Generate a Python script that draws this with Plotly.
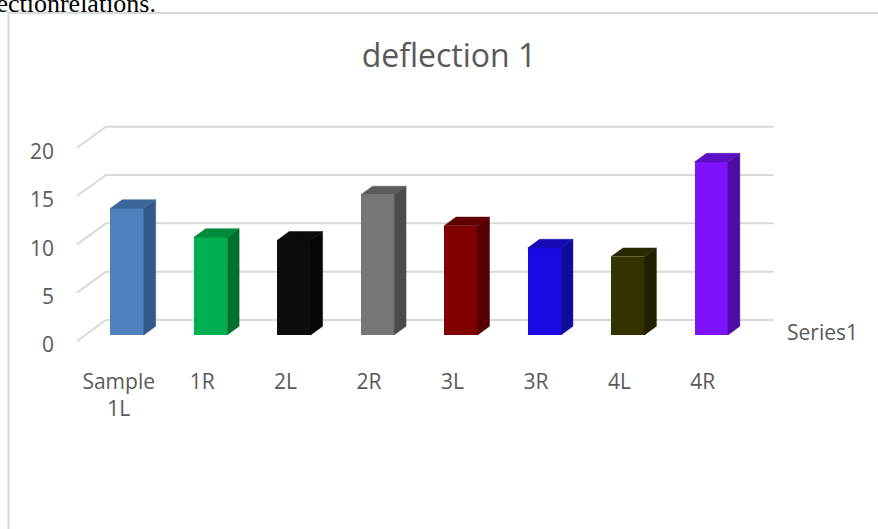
import plotly.graph_objects as go

# ---------------- data ----------------
categories = ["Sample<br>1L", "1R", "2L", "2R", "3L", "3R", "4L", "4R"]
values = [13.1, 10.1, 9.8, 14.5, 11.3, 9.0, 8.1, 17.9]
y_ticks = [0, 5, 10, 15, 20]
series_name = "Series1"
title_text = "deflection 1"
front_colors = ["#4F81BD", "#00B050", "#0D0D0D", "#767676", "#800000", "#1A0BE5", "#333300", "#7C13FB"]
side_colors = ["#34588A", "#00702F", "#070707", "#4B4B4B", "#540000", "#120A9C", "#212100", "#4E0BA6"]
top_colors = ["#3C679B", "#008A3C", "#0A0A0A", "#5A5A5A", "#620000", "#150BB5", "#292900", "#5C0EC2"]

# ---------------- geometry (pixels) ----------------
W, H = 878, 529
L, R, T, B = 55, 60, 90, 165
CAT_PX = 83.45     # px per category
VAL_PX = 9.665     # px per value unit
X0_PX = 118.7      # pixel x of category 0 on front floor edge
Y0_PX = 341.0      # pixel y of value 0 on front floor edge
DEPTH_X = 29 / CAT_PX   # full depth offset in category units
DEPTH_Y = 21 / VAL_PX   # full depth offset in value units
F0, F1 = 0.29, 0.70     # bar front / back depth fractions
BAR_W = 0.40

x_range = [(L - X0_PX) / CAT_PX, (W - R - X0_PX) / CAT_PX]
y_range = [(Y0_PX - (H - B)) / VAL_PX, (Y0_PX - T) / VAL_PX]
pw, ph = W - L - R, H - T - B


def px2paper_x(px):
    return (px - L) / pw


def px2paper_y(py):
    return ((H - B) - py) / ph


n = len(categories)
x_left = -0.5
x_right = n - 0.5

fig = go.Figure()

shapes = []
# gridlines: side wall diagonals + back wall horizontals (drawn below the bars)
for v in y_ticks:
    shapes.append(dict(type="path", xref="x", yref="y", layer="below",
                       path=f"M {x_left},{v} L {x_left + DEPTH_X},{v + DEPTH_Y} L {x_right + DEPTH_X},{v + DEPTH_Y}",
                       line=dict(color="#D9D9D9", width=2)))

# chart frame
shapes.append(dict(type="rect", xref="paper", yref="paper",
                   x0=px2paper_x(8.5), y0=px2paper_y(H + 20),
                   x1=px2paper_x(W + 20), y1=px2paper_y(13),
                   line=dict(color="#D9D9D9", width=2), fillcolor="rgba(0,0,0,0)", layer="below"))

# bars: front faces
xs_front = [i + F0 * DEPTH_X for i in range(n)]
base = F0 * DEPTH_Y
fig.add_trace(go.Bar(x=xs_front, y=values, base=[base] * n, width=BAR_W,
                     marker=dict(color=front_colors, line=dict(width=0)),
                     showlegend=False, name=series_name))

dx = (F1 - F0) * DEPTH_X
dy = (F1 - F0) * DEPTH_Y
for i, v in enumerate(values):
    xl = xs_front[i] - BAR_W / 2
    xr = xs_front[i] + BAR_W / 2
    b0 = base
    t0 = base + v
    # side face
    fig.add_trace(go.Scatter(
        x=[xr, xr, xr + dx, xr + dx, xr], y=[b0, t0, t0 + dy, b0 + dy, b0],
        mode="lines", fill="toself", fillcolor=side_colors[i],
        line=dict(color=side_colors[i], width=0.5), hoverinfo="skip", showlegend=False))
    # top face
    fig.add_trace(go.Scatter(
        x=[xl, xr, xr + dx, xl + dx, xl], y=[t0, t0, t0 + dy, t0 + dy, t0],
        mode="lines", fill="toself", fillcolor=top_colors[i],
        line=dict(color=top_colors[i], width=0.5), hoverinfo="skip", showlegend=False))

# legend entry (no visible key)
fig.add_trace(go.Scatter(x=[None], y=[None], mode="lines", name=series_name,
                         line=dict(color="rgba(0,0,0,0)", width=0), showlegend=True))

fig.update_layout(
    width=W, height=H,
    margin=dict(l=L, r=R, t=T, b=B, pad=0),
    paper_bgcolor="white", plot_bgcolor="white",
    font=dict(family="Open Sans", size=21, color="#595959"),
    title=dict(text=title_text, x=449 / W, xanchor="center", xref="container",
               y=1 - 56 / H, yanchor="middle", yref="container",
               font=dict(family="Open Sans", size=32, color="#595959")),
    xaxis=dict(range=x_range, showgrid=False, zeroline=False, showline=False,
               tickmode="array", tickvals=list(range(n)), ticktext=categories,
               ticks="", ticklabelstandoff=3, fixedrange=True),
    yaxis=dict(range=y_range, showgrid=False, zeroline=False, showline=False,
               tickmode="array", tickvals=y_ticks, ticktext=[str(t) for t in y_ticks],
               ticks="", ticklabelshift=4, fixedrange=True),
    legend=dict(x=px2paper_x(747), y=px2paper_y(332), xanchor="left", yanchor="middle",
                font=dict(size=21, color="#595959"), bgcolor="rgba(0,0,0,0)"),
    bargap=0,
    showlegend=True,
    shapes=shapes,
    annotations=[dict(text="deflectionrelations.", xref="paper", yref="paper",
                      x=px2paper_x(158), y=px2paper_y(20), xanchor="right", yanchor="bottom",
                      showarrow=False,
                      font=dict(family="Liberation Serif", size=26, color="#000000"))],
)

fig.write_html("out.html")
